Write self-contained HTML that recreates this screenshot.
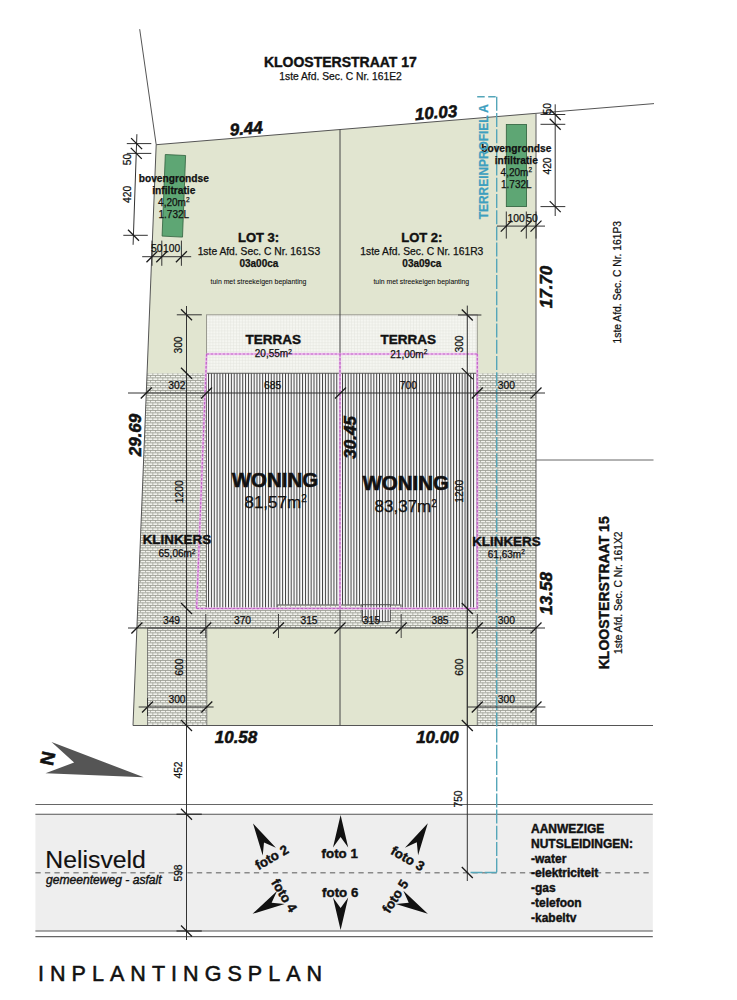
<!DOCTYPE html>
<html><head><meta charset="utf-8"><style>
html,body{margin:0;padding:0;background:#fff;width:737px;height:1000px;overflow:hidden}
svg{display:block;font-family:"Liberation Sans", sans-serif}
</style></head><body>
<svg width="737" height="1000" viewBox="0 0 737 1000">
<defs>
<pattern id="klink" width="5" height="5" patternUnits="userSpaceOnUse">
<rect width="5" height="5" fill="#f1f2ec"/>
<rect y="0" width="5" height="0.75" fill="#909288"/>
<rect y="2.5" width="5" height="0.75" fill="#909288"/>
<rect x="0" y="0" width="0.75" height="2.5" fill="#9c9e94"/>
<rect x="2.5" y="2.5" width="0.75" height="2.5" fill="#9c9e94"/>
</pattern>
<pattern id="stripe" width="2.85" height="10" patternUnits="userSpaceOnUse">
<rect width="2.85" height="10" fill="#fbfbfb"/>
<rect x="0" width="1.0" height="10" fill="#404040"/>
</pattern>
<pattern id="grid" width="2.95" height="2.95" patternUnits="userSpaceOnUse">
<rect width="2.95" height="2.95" fill="#f5f6f1"/>
<rect width="2.95" height="0.45" fill="#e3e4dd"/>
<rect width="0.45" height="2.95" fill="#e3e4dd"/>
</pattern>
</defs>
<polygon points="156.2,144.7 536.0,113.3 536.0,725.5 133.0,725.5" fill="#e1e5d0" stroke="none"/>
<polygon points="147.07,373.30 206.50,373.30 206.50,628.00 136.89,628.00" fill="url(#klink)" stroke="none" stroke-width="0"/>
<polygon points="477.30,373.30 536.00,373.30 536.00,628.00 477.30,628.00" fill="url(#klink)" stroke="none" stroke-width="0"/>
<polygon points="206.50,608.50 477.30,608.50 477.30,628.00 206.50,628.00" fill="url(#klink)" stroke="none" stroke-width="0"/>
<polygon points="147.50,628.00 206.80,628.00 206.80,725.50 147.50,725.50" fill="url(#klink)" stroke="#666" stroke-width="0.8"/>
<polygon points="477.30,628.00 536.00,628.00 536.00,725.50 477.30,725.50" fill="url(#klink)" stroke="#666" stroke-width="0.8"/>
<rect x="206.5" y="314.8" width="270.8" height="58.5" fill="url(#grid)" stroke="#9a9a90" stroke-width="1"/>
<rect x="206.5" y="373.3" width="270.8" height="235.2" fill="url(#stripe)" stroke="#555" stroke-width="0.8"/>
<rect x="277.4" y="604.8" width="123.7" height="3.7" fill="url(#klink)" stroke="#666" stroke-width="0.8"/>
<rect x="362" y="604.8" width="28.3" height="16.7" fill="url(#stripe)" stroke="#444" stroke-width="0.8"/>
<line x1="139.7" y1="29.2" x2="156.2" y2="144.7" stroke="#555" stroke-width="1" />
<line x1="156.2" y1="144.7" x2="654" y2="103.6" stroke="#555" stroke-width="1" />
<line x1="156.2" y1="144.7" x2="133" y2="725.5" stroke="#555" stroke-width="1" />
<line x1="133" y1="725.5" x2="653" y2="725.5" stroke="#555" stroke-width="1.2" />
<line x1="536" y1="113.34246685415829" x2="536" y2="725.5" stroke="#6a6a6a" stroke-width="1.1" />
<line x1="536" y1="460" x2="653.5" y2="460" stroke="#666" stroke-width="1" />
<line x1="340" y1="129.52486942547208" x2="340" y2="725.5" stroke="#444" stroke-width="1" />
<line x1="467.3" y1="608.5" x2="467.3" y2="725.5" stroke="#444" stroke-width="1" />
<polygon points="165.30,154.50 185.60,155.50 182.50,237.10 162.10,236.10" fill="#5ea674" stroke="#2f5f3c" stroke-width="0.8"/>
<rect x="506.3" y="124.5" width="20.3" height="82.1" fill="#5ea674" stroke="#2f5f3c" stroke-width="0.8"/>
<line x1="206.6" y1="354" x2="477.3" y2="354" stroke="#eebcf0" stroke-width="2.4" stroke-opacity="0.85"/>
<line x1="206.6" y1="354" x2="196.6" y2="608.5" stroke="#eebcf0" stroke-width="2.4" stroke-opacity="0.85"/>
<line x1="340.0" y1="354" x2="340.0" y2="608.5" stroke="#eebcf0" stroke-width="2.4" stroke-opacity="0.85"/>
<line x1="477.3" y1="354" x2="477.3" y2="608.5" stroke="#eebcf0" stroke-width="2.4" stroke-opacity="0.85"/>
<line x1="196.6" y1="608.5" x2="477.3" y2="608.5" stroke="#eebcf0" stroke-width="2.4" stroke-opacity="0.85"/>
<line x1="206.6" y1="354" x2="477.3" y2="354" stroke="#c060c6" stroke-width="1.2" stroke-dasharray="2.6,1.4"/>
<line x1="206.6" y1="354" x2="196.6" y2="608.5" stroke="#c060c6" stroke-width="1.2" stroke-dasharray="2.6,1.4"/>
<line x1="340.0" y1="354" x2="340.0" y2="608.5" stroke="#c060c6" stroke-width="1.2" stroke-dasharray="2.6,1.4"/>
<line x1="477.3" y1="354" x2="477.3" y2="608.5" stroke="#c060c6" stroke-width="1.2" stroke-dasharray="2.6,1.4"/>
<line x1="196.6" y1="608.5" x2="477.3" y2="608.5" stroke="#c060c6" stroke-width="1.2" stroke-dasharray="2.6,1.4"/>
<line x1="35.4" y1="804.5" x2="652.8" y2="804.5" stroke="#666" stroke-width="1.1" />
<rect x="35.4" y="814.2" width="617.4" height="116.8" fill="#eeeeee"/>
<line x1="35.4" y1="814.2" x2="652.8" y2="814.2" stroke="#555" stroke-width="1.1" />
<line x1="35.4" y1="931" x2="652.8" y2="931" stroke="#555" stroke-width="1.1" />
<line x1="35.4" y1="936.6" x2="652.8" y2="936.6" stroke="#666" stroke-width="1.1" />
<line x1="35.4" y1="872.7" x2="652.8" y2="872.7" stroke="#8a8a8a" stroke-width="1.4" stroke-dasharray="5.3,4.2"/>
<line x1="496.7" y1="96.8" x2="496.7" y2="872.5" stroke="#55a6b9" stroke-width="1.4" stroke-dasharray="14,2.2"/>
<line x1="477.2" y1="96.8" x2="496.7" y2="96.8" stroke="#55a6b9" stroke-width="1.4" stroke-dasharray="7.5,3.5"/>
<line x1="496.7" y1="872.5" x2="468.2" y2="872.5" stroke="#55a6b9" stroke-width="1.4" stroke-dasharray="12,2.2"/>
<line x1="128" y1="393" x2="545" y2="393" stroke="#333" stroke-width="1" />
<line x1="140.78168044077134" y1="398.5" x2="151.78168044077134" y2="387.5" stroke="#1a1a1a" stroke-width="1.3" />
<line x1="201.0" y1="398.5" x2="212.0" y2="387.5" stroke="#1a1a1a" stroke-width="1.3" />
<line x1="335.0" y1="398.5" x2="346.0" y2="387.5" stroke="#1a1a1a" stroke-width="1.3" />
<line x1="471.8" y1="398.5" x2="482.8" y2="387.5" stroke="#1a1a1a" stroke-width="1.3" />
<line x1="530.5" y1="398.5" x2="541.5" y2="387.5" stroke="#1a1a1a" stroke-width="1.3" />
<line x1="128" y1="628" x2="545" y2="628" stroke="#333" stroke-width="1" />
<line x1="131.39462809917356" y1="633.5" x2="142.39462809917356" y2="622.5" stroke="#1a1a1a" stroke-width="1.3" />
<line x1="200.3" y1="633.5" x2="211.3" y2="622.5" stroke="#1a1a1a" stroke-width="1.3" />
<line x1="273.0" y1="633.5" x2="284.0" y2="622.5" stroke="#1a1a1a" stroke-width="1.3" />
<line x1="334.5" y1="633.5" x2="345.5" y2="622.5" stroke="#1a1a1a" stroke-width="1.3" />
<line x1="395.7" y1="633.5" x2="406.7" y2="622.5" stroke="#1a1a1a" stroke-width="1.3" />
<line x1="471.8" y1="633.5" x2="482.8" y2="622.5" stroke="#1a1a1a" stroke-width="1.3" />
<line x1="530.5" y1="633.5" x2="541.5" y2="622.5" stroke="#1a1a1a" stroke-width="1.3" />
<line x1="205.8" y1="614" x2="205.8" y2="638" stroke="#333" stroke-width="0.9" />
<line x1="278.5" y1="614" x2="278.5" y2="638" stroke="#333" stroke-width="0.9" />
<line x1="401.2" y1="614" x2="401.2" y2="638" stroke="#333" stroke-width="0.9" />
<line x1="477.3" y1="614" x2="477.3" y2="638" stroke="#333" stroke-width="0.9" />
<line x1="138.7" y1="707" x2="213.6" y2="707" stroke="#333" stroke-width="1" />
<line x1="142.0" y1="712.5" x2="153.0" y2="701.5" stroke="#1a1a1a" stroke-width="1.3" />
<line x1="201.3" y1="712.5" x2="212.3" y2="701.5" stroke="#1a1a1a" stroke-width="1.3" />
<line x1="147.5" y1="698" x2="147.5" y2="716" stroke="#333" stroke-width="0.9" />
<line x1="467.3" y1="707" x2="545.4" y2="707" stroke="#333" stroke-width="1" />
<line x1="471.8" y1="712.5" x2="482.8" y2="701.5" stroke="#1a1a1a" stroke-width="1.3" />
<line x1="530.5" y1="712.5" x2="541.5" y2="701.5" stroke="#1a1a1a" stroke-width="1.3" />
<line x1="186.5" y1="306" x2="186.5" y2="940" stroke="#333" stroke-width="1" />
<line x1="181.0" y1="309.3" x2="192.0" y2="320.3" stroke="#1a1a1a" stroke-width="1.3" />
<line x1="181.0" y1="367.8" x2="192.0" y2="378.8" stroke="#1a1a1a" stroke-width="1.3" />
<line x1="181.0" y1="603.0" x2="192.0" y2="614.0" stroke="#1a1a1a" stroke-width="1.3" />
<line x1="181.0" y1="720.0" x2="192.0" y2="731.0" stroke="#1a1a1a" stroke-width="1.3" />
<line x1="181.0" y1="808.7" x2="192.0" y2="819.7" stroke="#1a1a1a" stroke-width="1.3" />
<line x1="181.0" y1="925.5" x2="192.0" y2="936.5" stroke="#1a1a1a" stroke-width="1.3" />
<line x1="176.5" y1="814.2" x2="201.8" y2="814.2" stroke="#222" stroke-width="1.1" />
<line x1="176.5" y1="931" x2="201.8" y2="931" stroke="#222" stroke-width="1.1" />
<line x1="467.3" y1="305.6" x2="467.3" y2="881" stroke="#333" stroke-width="1" />
<line x1="461.8" y1="309.5" x2="472.8" y2="320.5" stroke="#1a1a1a" stroke-width="1.3" />
<line x1="461.8" y1="368.1" x2="472.8" y2="379.1" stroke="#1a1a1a" stroke-width="1.3" />
<line x1="461.8" y1="603.0" x2="472.8" y2="614.0" stroke="#1a1a1a" stroke-width="1.3" />
<line x1="461.8" y1="720.0" x2="472.8" y2="731.0" stroke="#1a1a1a" stroke-width="1.3" />
<line x1="461.8" y1="867.0" x2="472.8" y2="878.0" stroke="#1a1a1a" stroke-width="1.3" />
<line x1="176.8" y1="314.8" x2="201.8" y2="314.8" stroke="#333" stroke-width="1" />
<line x1="458" y1="315" x2="481.4" y2="315" stroke="#333" stroke-width="1" />
<line x1="136.9" y1="134.2" x2="133.1" y2="244.8" stroke="#333" stroke-width="1" />
<line x1="126.8" y1="143.6" x2="151.3" y2="143.6" stroke="#333" stroke-width="1" />
<line x1="126.8" y1="153.4" x2="151.3" y2="153.4" stroke="#333" stroke-width="1" />
<line x1="123.3" y1="235.3" x2="147.8" y2="235.3" stroke="#333" stroke-width="1" />
<line x1="131.1" y1="138.1" x2="142.1" y2="149.1" stroke="#1a1a1a" stroke-width="1.3" />
<line x1="130.8" y1="147.9" x2="141.8" y2="158.9" stroke="#1a1a1a" stroke-width="1.3" />
<line x1="128.0" y1="229.8" x2="139.0" y2="240.8" stroke="#1a1a1a" stroke-width="1.3" />
<line x1="142.2" y1="256.7" x2="191.2" y2="256.7" stroke="#333" stroke-width="1" />
<line x1="152" y1="240.6" x2="152" y2="265.8" stroke="#333" stroke-width="1" />
<line x1="146.5" y1="262.2" x2="157.5" y2="251.2" stroke="#1a1a1a" stroke-width="1.3" />
<line x1="161.8" y1="240.6" x2="161.8" y2="265.8" stroke="#333" stroke-width="1" />
<line x1="156.3" y1="262.2" x2="167.3" y2="251.2" stroke="#1a1a1a" stroke-width="1.3" />
<line x1="181.4" y1="240.6" x2="181.4" y2="265.8" stroke="#333" stroke-width="1" />
<line x1="175.9" y1="262.2" x2="186.9" y2="251.2" stroke="#1a1a1a" stroke-width="1.3" />
<line x1="555.2" y1="104.3" x2="555.2" y2="216" stroke="#333" stroke-width="1" />
<line x1="540.5" y1="114.5" x2="565.3" y2="114.5" stroke="#333" stroke-width="1" />
<line x1="549.7" y1="109.0" x2="560.7" y2="120.0" stroke="#1a1a1a" stroke-width="1.3" />
<line x1="540.5" y1="124.3" x2="565.3" y2="124.3" stroke="#333" stroke-width="1" />
<line x1="549.7" y1="118.8" x2="560.7" y2="129.8" stroke="#1a1a1a" stroke-width="1.3" />
<line x1="540.5" y1="206.6" x2="565.3" y2="206.6" stroke="#333" stroke-width="1" />
<line x1="549.7" y1="201.1" x2="560.7" y2="212.1" stroke="#1a1a1a" stroke-width="1.3" />
<line x1="497" y1="226.1" x2="545" y2="226.1" stroke="#333" stroke-width="1" />
<line x1="506.3" y1="211.5" x2="506.3" y2="238.6" stroke="#333" stroke-width="1" />
<line x1="500.8" y1="231.6" x2="511.8" y2="220.6" stroke="#1a1a1a" stroke-width="1.3" />
<line x1="526.3" y1="211.5" x2="526.3" y2="238.6" stroke="#333" stroke-width="1" />
<line x1="520.8" y1="231.6" x2="531.8" y2="220.6" stroke="#1a1a1a" stroke-width="1.3" />
<line x1="536" y1="211.5" x2="536" y2="238.6" stroke="#333" stroke-width="1" />
<line x1="530.5" y1="231.6" x2="541.5" y2="220.6" stroke="#1a1a1a" stroke-width="1.3" />
<polygon points="51.5,742 143.8,777.3 45.5,773.2 74.1,762.6" fill="#555"/>
<text x="0" y="0" font-size="19" font-weight="bold" font-style="normal" text-anchor="middle" dominant-baseline="central" fill="#111" stroke="#111" stroke-width="0.55" transform="translate(47.8 758.3) rotate(102)">N</text>
<polygon points="0,0 7.6,32.6 0,22 -7.6,32.6" fill="#111" transform="translate(340.6 815) rotate(0)"/>
<polygon points="0,0 7.6,32.6 0,22 -7.6,32.6" fill="#111" transform="translate(340.6 930) rotate(180)"/>
<polygon points="0,0 7.6,32.6 0,22 -7.6,32.6" fill="#111" transform="translate(253 823.4) rotate(-30)"/>
<polygon points="0,0 7.6,32.6 0,22 -7.6,32.6" fill="#111" transform="translate(427.8 823.2) rotate(30)"/>
<polygon points="0,0 7.6,32.6 0,22 -7.6,32.6" fill="#111" transform="translate(252.6 913.8) rotate(-120)"/>
<polygon points="0,0 7.6,32.6 0,22 -7.6,32.6" fill="#111" transform="translate(427.8 913.7) rotate(120)"/>
<g font-family='"Liberation Sans", sans-serif'>
<text x="340.4" y="67" font-size="14" font-weight="bold" font-style="normal" text-anchor="middle" fill="#111" stroke="#111" stroke-width="0.4" >KLOOSTERSTRAAT 17</text>
<text x="340.5" y="79.5" font-size="10.3" font-weight="normal" font-style="normal" text-anchor="middle" fill="#111" stroke="#111" stroke-width="0.25" >1ste Afd. Sec. C Nr. 161E2</text>
<text x="258.6" y="241.5" font-size="13" font-weight="bold" font-style="normal" text-anchor="middle" fill="#111" stroke="#111" stroke-width="0.4" >LOT 3:</text>
<text x="258.9" y="254.5" font-size="10.3" font-weight="normal" font-style="normal" text-anchor="middle" fill="#111" stroke="#111" stroke-width="0.25" >1ste Afd. Sec. C Nr. 161S3</text>
<text x="258.9" y="266.5" font-size="10" font-weight="bold" font-style="normal" text-anchor="middle" fill="#111" stroke="#111" stroke-width="0.25" >03a00ca</text>
<text x="258.5" y="283.5" font-size="6.9" font-weight="normal" font-style="normal" text-anchor="middle" fill="#111" stroke="#111" stroke-width="0.08" >tuin met streekeigen beplanting</text>
<text x="421.8" y="241.5" font-size="13" font-weight="bold" font-style="normal" text-anchor="middle" fill="#111" stroke="#111" stroke-width="0.4" >LOT 2:</text>
<text x="421.8" y="254.5" font-size="10.3" font-weight="normal" font-style="normal" text-anchor="middle" fill="#111" stroke="#111" stroke-width="0.25" >1ste Afd. Sec. C Nr. 161R3</text>
<text x="421.8" y="266.5" font-size="10" font-weight="bold" font-style="normal" text-anchor="middle" fill="#111" stroke="#111" stroke-width="0.25" >03a09ca</text>
<text x="421.3" y="283.5" font-size="6.9" font-weight="normal" font-style="normal" text-anchor="middle" fill="#111" stroke="#111" stroke-width="0.08" >tuin met streekeigen beplanting</text>
<text x="273.3" y="343.5" font-size="13.5" font-weight="bold" font-style="normal" text-anchor="middle" fill="#111" stroke="#111" stroke-width="0.4" >TERRAS</text>
<text x="273.3" y="357" font-size="10" font-weight="normal" font-style="normal" text-anchor="middle" fill="#111" stroke="#111" stroke-width="0.25" >20,55m<tspan font-size="6.5" dy="-3.5">2</tspan></text>
<text x="408.3" y="344" font-size="13.5" font-weight="bold" font-style="normal" text-anchor="middle" fill="#111" stroke="#111" stroke-width="0.4" >TERRAS</text>
<text x="408.8" y="357.5" font-size="10" font-weight="normal" font-style="normal" text-anchor="middle" fill="#111" stroke="#111" stroke-width="0.25" >21,00m<tspan font-size="6.5" dy="-3.5">2</tspan></text>
<text x="275" y="486.5" font-size="20.5" font-weight="bold" font-style="normal" text-anchor="middle" fill="#111" stroke="#111" stroke-width="0.55" >WONING</text>
<text x="275.6" y="507.5" font-size="17" font-weight="normal" font-style="normal" text-anchor="middle" fill="#111" stroke="#111" stroke-width="0.25" >81,57m<tspan font-size="10" dy="-5.5">2</tspan></text>
<text x="405.7" y="490" font-size="20.5" font-weight="bold" font-style="normal" text-anchor="middle" fill="#111" stroke="#111" stroke-width="0.55" >WONING</text>
<text x="405.7" y="512" font-size="17" font-weight="normal" font-style="normal" text-anchor="middle" fill="#111" stroke="#111" stroke-width="0.25" >83,37m<tspan font-size="10" dy="-5.5">2</tspan></text>
<text x="176.9" y="544" font-size="13.4" font-weight="bold" font-style="normal" text-anchor="middle" fill="#111" stroke="#111" stroke-width="0.4" >KLINKERS</text>
<text x="177" y="557" font-size="10" font-weight="normal" font-style="normal" text-anchor="middle" fill="#111" stroke="#111" stroke-width="0.25" >65,06m<tspan font-size="6.5" dy="-3.5">2</tspan></text>
<text x="506.4" y="545.5" font-size="13.4" font-weight="bold" font-style="normal" text-anchor="middle" fill="#111" stroke="#111" stroke-width="0.4" >KLINKERS</text>
<text x="506.3" y="557.5" font-size="10" font-weight="normal" font-style="normal" text-anchor="middle" fill="#111" stroke="#111" stroke-width="0.25" >61,63m<tspan font-size="6.5" dy="-3.5">2</tspan></text>
<text x="173.8" y="181.5" font-size="10.2" font-weight="bold" font-style="normal" text-anchor="middle" fill="#111" stroke="#111" stroke-width="0.25" >bovengrondse</text>
<text x="173.8" y="193.5" font-size="10.2" font-weight="bold" font-style="normal" text-anchor="middle" fill="#111" stroke="#111" stroke-width="0.25" >infiltratie</text>
<text x="173.8" y="205.5" font-size="10" font-weight="normal" font-style="normal" text-anchor="middle" fill="#111" stroke="#111" stroke-width="0.25" >4,20m<tspan font-size="6.5" dy="-3.5">2</tspan></text>
<text x="173.8" y="217.5" font-size="10" font-weight="normal" font-style="normal" text-anchor="middle" fill="#111" stroke="#111" stroke-width="0.25" >1.732L</text>
<text x="516.3" y="151.5" font-size="10.2" font-weight="bold" font-style="normal" text-anchor="middle" fill="#111" stroke="#111" stroke-width="0.25" >bovengrondse</text>
<text x="516.3" y="163.5" font-size="10.2" font-weight="bold" font-style="normal" text-anchor="middle" fill="#111" stroke="#111" stroke-width="0.25" >infiltratie</text>
<text x="516.3" y="175.5" font-size="10" font-weight="normal" font-style="normal" text-anchor="middle" fill="#111" stroke="#111" stroke-width="0.25" >4,20m<tspan font-size="6.5" dy="-3.5">2</tspan></text>
<text x="516.3" y="187.5" font-size="10" font-weight="normal" font-style="normal" text-anchor="middle" fill="#111" stroke="#111" stroke-width="0.25" >1.732L</text>
<text x="176.8" y="389" font-size="10.3" font-weight="normal" font-style="normal" text-anchor="middle" fill="#111" stroke="#111" stroke-width="0.25" >302</text>
<text x="272.7" y="389" font-size="10.3" font-weight="normal" font-style="normal" text-anchor="middle" fill="#111" stroke="#111" stroke-width="0.25" >685</text>
<text x="408.4" y="389" font-size="10.3" font-weight="normal" font-style="normal" text-anchor="middle" fill="#111" stroke="#111" stroke-width="0.25" >700</text>
<text x="506.3" y="389" font-size="10.3" font-weight="normal" font-style="normal" text-anchor="middle" fill="#111" stroke="#111" stroke-width="0.25" >300</text>
<text x="171.5" y="624" font-size="10.3" font-weight="normal" font-style="normal" text-anchor="middle" fill="#111" stroke="#111" stroke-width="0.25" >349</text>
<text x="242.5" y="624" font-size="10.3" font-weight="normal" font-style="normal" text-anchor="middle" fill="#111" stroke="#111" stroke-width="0.25" >370</text>
<text x="309" y="624" font-size="10.3" font-weight="normal" font-style="normal" text-anchor="middle" fill="#111" stroke="#111" stroke-width="0.25" >315</text>
<text x="371.4" y="624" font-size="10.3" font-weight="normal" font-style="normal" text-anchor="middle" fill="#111" stroke="#111" stroke-width="0.25" >315</text>
<text x="440" y="624" font-size="10.3" font-weight="normal" font-style="normal" text-anchor="middle" fill="#111" stroke="#111" stroke-width="0.25" >385</text>
<text x="506.4" y="624" font-size="10.3" font-weight="normal" font-style="normal" text-anchor="middle" fill="#111" stroke="#111" stroke-width="0.25" >300</text>
<text x="177" y="703" font-size="10.3" font-weight="normal" font-style="normal" text-anchor="middle" fill="#111" stroke="#111" stroke-width="0.25" >300</text>
<text x="506.4" y="703" font-size="10.3" font-weight="normal" font-style="normal" text-anchor="middle" fill="#111" stroke="#111" stroke-width="0.25" >300</text>
<text x="156.8" y="251.5" font-size="10.3" font-weight="normal" font-style="normal" text-anchor="middle" fill="#111" stroke="#111" stroke-width="0.25" >50</text>
<text x="171.6" y="251.5" font-size="10.3" font-weight="normal" font-style="normal" text-anchor="middle" fill="#111" stroke="#111" stroke-width="0.25" >100</text>
<text x="516.2" y="222" font-size="10.3" font-weight="normal" font-style="normal" text-anchor="middle" fill="#111" stroke="#111" stroke-width="0.25" >100</text>
<text x="531.9" y="222" font-size="10.3" font-weight="normal" font-style="normal" text-anchor="middle" fill="#111" stroke="#111" stroke-width="0.25" >50</text>
<text x="0" y="0" font-size="10.3" font-weight="normal" font-style="normal" text-anchor="middle" dominant-baseline="central" fill="#111" stroke="#111" stroke-width="0.25" transform="translate(178.4 345) rotate(-90)">300</text>
<text x="0" y="0" font-size="10.3" font-weight="normal" font-style="normal" text-anchor="middle" dominant-baseline="central" fill="#111" stroke="#111" stroke-width="0.25" transform="translate(459.5 344) rotate(-90)">300</text>
<text x="0" y="0" font-size="10.3" font-weight="normal" font-style="normal" text-anchor="middle" dominant-baseline="central" fill="#111" stroke="#111" stroke-width="0.25" transform="translate(179.6 491.7) rotate(-90)">1200</text>
<text x="0" y="0" font-size="10.3" font-weight="normal" font-style="normal" text-anchor="middle" dominant-baseline="central" fill="#111" stroke="#111" stroke-width="0.25" transform="translate(459.5 491.2) rotate(-90)">1200</text>
<text x="0" y="0" font-size="10.3" font-weight="normal" font-style="normal" text-anchor="middle" dominant-baseline="central" fill="#111" stroke="#111" stroke-width="0.25" transform="translate(179.3 667.2) rotate(-90)">600</text>
<text x="0" y="0" font-size="10.3" font-weight="normal" font-style="normal" text-anchor="middle" dominant-baseline="central" fill="#111" stroke="#111" stroke-width="0.25" transform="translate(459.5 667.2) rotate(-90)">600</text>
<text x="0" y="0" font-size="10.3" font-weight="normal" font-style="normal" text-anchor="middle" dominant-baseline="central" fill="#111" stroke="#111" stroke-width="0.25" transform="translate(178 770) rotate(-90)">452</text>
<text x="0" y="0" font-size="10.3" font-weight="normal" font-style="normal" text-anchor="middle" dominant-baseline="central" fill="#111" stroke="#111" stroke-width="0.25" transform="translate(178 873) rotate(-90)">598</text>
<text x="0" y="0" font-size="10.3" font-weight="normal" font-style="normal" text-anchor="middle" dominant-baseline="central" fill="#111" stroke="#111" stroke-width="0.25" transform="translate(458.4 799) rotate(-90)">750</text>
<text x="0" y="0" font-size="10.3" font-weight="normal" font-style="normal" text-anchor="middle" dominant-baseline="central" fill="#111" stroke="#111" stroke-width="0.25" transform="translate(127.9 159.4) rotate(-90)">50</text>
<text x="0" y="0" font-size="10.3" font-weight="normal" font-style="normal" text-anchor="middle" dominant-baseline="central" fill="#111" stroke="#111" stroke-width="0.25" transform="translate(127.5 194.4) rotate(-90)">420</text>
<text x="0" y="0" font-size="10.3" font-weight="normal" font-style="normal" text-anchor="middle" dominant-baseline="central" fill="#111" stroke="#111" stroke-width="0.25" transform="translate(547.7 108.8) rotate(-90)">50</text>
<text x="0" y="0" font-size="10.3" font-weight="normal" font-style="normal" text-anchor="middle" dominant-baseline="central" fill="#111" stroke="#111" stroke-width="0.25" transform="translate(547.7 166) rotate(-90)">420</text>
<text x="0" y="0" font-size="17" font-weight="bold" font-style="italic" text-anchor="middle" dominant-baseline="central" fill="#111" stroke="#111" stroke-width="0.55" transform="translate(246.2 128.9) rotate(-4.75)">9.44</text>
<text x="0" y="0" font-size="17" font-weight="bold" font-style="italic" text-anchor="middle" dominant-baseline="central" fill="#111" stroke="#111" stroke-width="0.55" transform="translate(436 112.9) rotate(-4.75)">10.03</text>
<text x="0" y="0" font-size="17" font-weight="bold" font-style="italic" text-anchor="middle" dominant-baseline="central" fill="#111" stroke="#111" stroke-width="0.55" transform="translate(135.7 435) rotate(-90)">29.69</text>
<text x="0" y="0" font-size="17" font-weight="bold" font-style="italic" text-anchor="middle" dominant-baseline="central" fill="#111" stroke="#111" stroke-width="0.55" transform="translate(350.3 437.4) rotate(-90)">30.45</text>
<text x="0" y="0" font-size="17" font-weight="bold" font-style="italic" text-anchor="middle" dominant-baseline="central" fill="#111" stroke="#111" stroke-width="0.55" transform="translate(546.2 287) rotate(-90)">17.70</text>
<text x="0" y="0" font-size="17" font-weight="bold" font-style="italic" text-anchor="middle" dominant-baseline="central" fill="#111" stroke="#111" stroke-width="0.55" transform="translate(546.6 593.4) rotate(-90)">13.58</text>
<text x="236" y="742.5" font-size="17" font-weight="bold" font-style="italic" text-anchor="middle" fill="#111" stroke="#111" stroke-width="0.55" >10.58</text>
<text x="437.4" y="742.5" font-size="17" font-weight="bold" font-style="italic" text-anchor="middle" fill="#111" stroke="#111" stroke-width="0.55" >10.00</text>
<text x="0" y="0" font-size="10.3" font-weight="normal" font-style="normal" text-anchor="middle" dominant-baseline="central" fill="#111" stroke="#111" stroke-width="0.25" transform="translate(617.8 282.2) rotate(-90)">1ste Afd. Sec. C Nr. 161P3</text>
<text x="0" y="0" font-size="14" font-weight="bold" font-style="normal" text-anchor="middle" dominant-baseline="central" fill="#111" stroke="#111" stroke-width="0.4" transform="translate(603.9 592.8) rotate(-90)">KLOOSTERSTRAAT 15</text>
<text x="0" y="0" font-size="10.3" font-weight="normal" font-style="normal" text-anchor="middle" dominant-baseline="central" fill="#111" stroke="#111" stroke-width="0.25" transform="translate(618.2 592.7) rotate(-90)">1ste Afd. Sec. C Nr. 161X2</text>
<text x="0" y="0" font-size="11.9" font-weight="bold" font-style="normal" text-anchor="middle" dominant-baseline="central" fill="#3d9fbf" stroke="#3d9fbf" stroke-width="0.25" transform="translate(484.3 161.7) rotate(-90)">TERREINPROFIEL A</text>
<text x="45.3" y="867.6" font-size="24.8" font-weight="normal" font-style="normal" text-anchor="start" fill="#111" stroke="#111" stroke-width="0.15" >Nelisveld</text>
<text x="46" y="884" font-size="12.1" font-weight="normal" font-style="italic" text-anchor="start" fill="#111" stroke="#111" stroke-width="0.4" >gemeenteweg - asfalt</text>
<text x="339.7" y="858" font-size="13.3" font-weight="bold" font-style="normal" text-anchor="middle" fill="#111" stroke="#111" stroke-width="0.4" >foto 1</text>
<text x="340.2" y="897.3" font-size="13.3" font-weight="bold" font-style="normal" text-anchor="middle" fill="#111" stroke="#111" stroke-width="0.4" >foto 6</text>
<text x="0" y="0" font-size="13.3" font-weight="bold" font-style="normal" text-anchor="middle" dominant-baseline="central" fill="#111" stroke="#111" stroke-width="0.4" transform="translate(271.8 857.4) rotate(-30)">foto 2</text>
<text x="0" y="0" font-size="13.3" font-weight="bold" font-style="normal" text-anchor="middle" dominant-baseline="central" fill="#111" stroke="#111" stroke-width="0.4" transform="translate(407.7 858.6) rotate(30)">foto 3</text>
<text x="0" y="0" font-size="13.3" font-weight="bold" font-style="normal" text-anchor="middle" dominant-baseline="central" fill="#111" stroke="#111" stroke-width="0.4" transform="translate(284.2 895.5) rotate(58)">foto 4</text>
<text x="0" y="0" font-size="13.3" font-weight="bold" font-style="normal" text-anchor="middle" dominant-baseline="central" fill="#111" stroke="#111" stroke-width="0.4" transform="translate(395.4 896.3) rotate(-57)">foto 5</text>
<text x="531" y="833.0" font-size="12" font-weight="bold" font-style="normal" text-anchor="start" fill="#111" stroke="#111" stroke-width="0.4" >AANWEZIGE</text>
<text x="531" y="847.8" font-size="12" font-weight="bold" font-style="normal" text-anchor="start" fill="#111" stroke="#111" stroke-width="0.4" >NUTSLEIDINGEN:</text>
<text x="531" y="862.6" font-size="12" font-weight="bold" font-style="normal" text-anchor="start" fill="#111" stroke="#111" stroke-width="0.4" >-water</text>
<text x="531" y="877.4" font-size="12" font-weight="bold" font-style="normal" text-anchor="start" fill="#111" stroke="#111" stroke-width="0.4" >-elektriciteit</text>
<text x="531" y="892.2" font-size="12" font-weight="bold" font-style="normal" text-anchor="start" fill="#111" stroke="#111" stroke-width="0.4" >-gas</text>
<text x="531" y="907.0" font-size="12" font-weight="bold" font-style="normal" text-anchor="start" fill="#111" stroke="#111" stroke-width="0.4" >-telefoon</text>
<text x="531" y="921.8" font-size="12" font-weight="bold" font-style="normal" text-anchor="start" fill="#111" stroke="#111" stroke-width="0.4" >-kabeltv</text>
<text x="38" y="981" font-size="21.5" font-weight="normal" font-style="normal" text-anchor="start" fill="#111" stroke="#111" stroke-width="0.55" letter-spacing="6.04">INPLANTINGSPLAN</text>
</g>
</svg></body></html>
